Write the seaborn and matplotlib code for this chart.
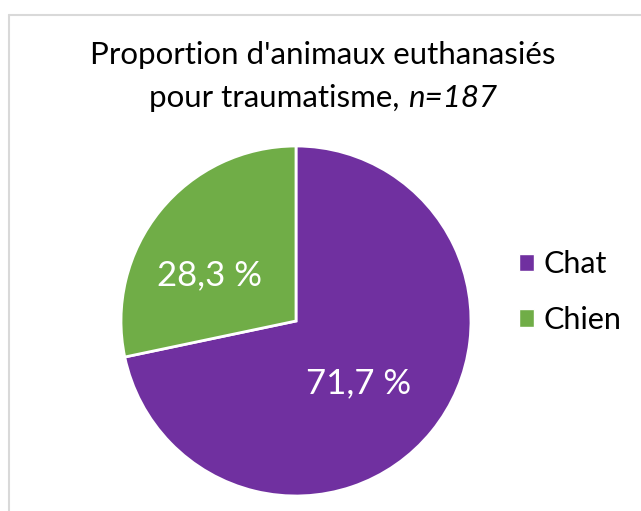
import matplotlib
matplotlib.use("Agg")
import matplotlib.pyplot as plt
import seaborn as sns
from matplotlib.patches import Rectangle
from matplotlib.lines import Line2D

categories = ["Chat", "Chien"]
values = [71.7, 28.3]
colors = ["#7030A0", "#70AD47"]
title_line1 = "Proportion d'animaux euthanasiés"
title_line2a = "pour traumatisme, "
title_line2b = "n=187"

sns.set_theme(style="white")
plt.rcParams['font.family'] = ['Lato', 'DejaVu Sans']

W, H = 641, 511
fig = plt.figure(figsize=(W / 100, H / 100), dpi=100)
fig.patch.set_facecolor("white")

# chart border
fig.add_artist(Line2D([9 / W, 9 / W], [0, 1 - 15 / H], transform=fig.transFigure,
                      color="#D9D9D9", lw=1.5))
fig.add_artist(Line2D([9 / W, 1], [1 - 15 / H, 1 - 15 / H], transform=fig.transFigure,
                      color="#D9D9D9", lw=1.5))

cx, cy, r = 296, 321, 175
ax = fig.add_axes([(cx - r) / W, (H - cy - r) / H, 2 * r / W, 2 * r / H])
wedges, texts, autotexts = ax.pie(
    values, colors=colors, startangle=90, counterclock=False,
    autopct=lambda p: f"{p:.1f} %".replace(".", ","), pctdistance=0.52,
    wedgeprops=dict(edgecolor="white", linewidth=2),
    textprops=dict(color="white", fontsize=25))
# Excel "best fit" label placement
autotexts[0].set_position((0.36, -0.354))
autotexts[1].set_position((-0.497, 0.263))
ax.set_xlim(-1, 1)
ax.set_ylim(-1, 1)
ax.set_axis_off()

# legend
handles = [Rectangle((0, 0), 1, 1, facecolor=c) for c in colors]
fig.legend(handles, categories, loc="center left",
           bbox_to_anchor=(519 / W, 1 - 292 / H), frameon=False,
           borderpad=0, borderaxespad=0,
           fontsize=22, handlelength=0.5, handleheight=0.5,
           handletextpad=0.3, labelspacing=0.9, labelcolor="#000000")

# title
fig.text(323 / W, 1 - 55 / H, title_line1, ha="center", va="center", fontsize=22.5,
         color="#000000")
renderer = fig.canvas.get_renderer()
ta = fig.text(0, 1 - 98 / H, title_line2a, ha="left", va="center", fontsize=22.5,
              color="#000000")
tb = fig.text(0, 1 - 98 / H, title_line2b, ha="left", va="center", fontsize=22.5,
              style="italic", color="#000000")
wa = ta.get_window_extent(renderer).width
wb = tb.get_window_extent(renderer).width
x0 = 323 - (wa + wb) / 2
ta.set_x(x0 / W)
tb.set_x((x0 + wa) / W)

fig.savefig("out.png", dpi=100, facecolor="white")
